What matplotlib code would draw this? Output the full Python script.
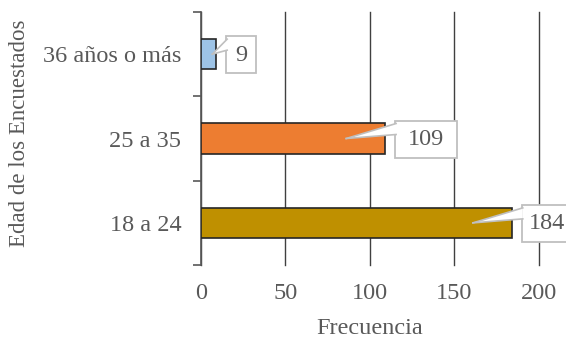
import matplotlib
matplotlib.use("Agg")
import matplotlib.pyplot as plt
import matplotlib.transforms as mt
from matplotlib.patches import Rectangle, Polygon
from matplotlib.lines import Line2D

categories = ["18 a 24", "25 a 35", "36 años o más"]
values = [184, 109, 9]
colors = ["#BF9000", "#ED7D31", "#9DC3E6"]
x_ticks = [0, 50, 100, 150, 200]
x_label = "Frecuencia"
y_label = "Edad de los Encuestados"

plt.rcParams['font.family'] = ['Liberation Serif', 'DejaVu Serif']
txt = "#595959"
fs = 17.5

W, H = 566, 342
fig = plt.figure(figsize=(W / 100, H / 100), dpi=100)
ax = fig.add_axes([0.355, 0.225, 0.597, 0.74])

ypos = list(range(len(categories)))
ax.barh(ypos, values, height=0.36, color=colors, edgecolor="#262626", linewidth=1.2, zorder=3)

ax.set_xlim(0, 200)
ax.set_ylim(-0.5, len(categories) - 0.5)
ax.set_xticks(x_ticks)
ax.set_xticklabels([str(t) for t in x_ticks], fontsize=fs, color=txt)
ax.tick_params(axis='x', length=0, pad=13)
ax.set_yticks(ypos)
ax.set_yticklabels(categories, fontsize=fs, color=txt)
ax.tick_params(axis='y', which='major', length=0, pad=14)
ax.set_yticks([p - 0.5 for p in ypos] + [ypos[-1] + 0.5], minor=True)
ax.tick_params(axis='y', which='minor', length=6, width=1.2, color="#595959", direction='out')

for s in ['top', 'right', 'bottom']:
    ax.spines[s].set_visible(False)
ax.spines['left'].set_color("#595959")
ax.spines['left'].set_linewidth(1.2)
ax.grid(axis='x', color="#404040", linewidth=1.0, zorder=0)
ax.set_axisbelow(True)
for gl in ax.get_xgridlines():
    gl.set_clip_on(False)

ax.set_xlabel(x_label, fontsize=fs, color=txt, labelpad=10)
fig.text(20 / W, 1 - 133.5 / H, y_label, fontsize=16.5, color=txt,
         rotation=90, ha='center', va='center')

fig.canvas.draw()
renderer = fig.canvas.get_renderer()
ident = mt.IdentityTransform()
box_h = 37

for y, v in zip(ypos, values):
    bx, cy = ax.transData.transform((v, y))
    t = ax.text(0, 0, str(v), fontsize=fs, color=txt, ha='center', va='center',
                transform=ident, zorder=7, clip_on=False)
    tw = t.get_window_extent(renderer).width
    w = tw * 1.36 + 13
    left = bx + 10
    if left + w > W:
        t.set_position((W - tw / 2 - 1, cy - 1))
        w = W - left + 5
    else:
        t.set_position((left + w / 2, cy - 1))
    rect = Rectangle((left, cy - box_h / 2 - 0.5), w, box_h, transform=ident,
                     fc='white', ec='#BFBFBF', lw=1.3, zorder=5, clip_on=False)
    ax.add_artist(rect)
    tip = max(v - 23, v * 0.75)
    tx, ty = ax.transData.transform((tip, y))
    p1 = (left + 1, cy + 15)
    p2 = (left + 1, cy + 4)
    poly = Polygon([(tx, ty), p1, p2], closed=True, transform=ident,
                   fc='white', ec='none', zorder=6, clip_on=False)
    ax.add_artist(poly)
    for p in (p1, p2):
        ln = Line2D([tx, p[0]], [ty, p[1]], transform=ident, color='#BFBFBF',
                    lw=1.2, zorder=6, clip_on=False)
        ax.add_artist(ln)

fig.savefig("out.png", dpi=100)
